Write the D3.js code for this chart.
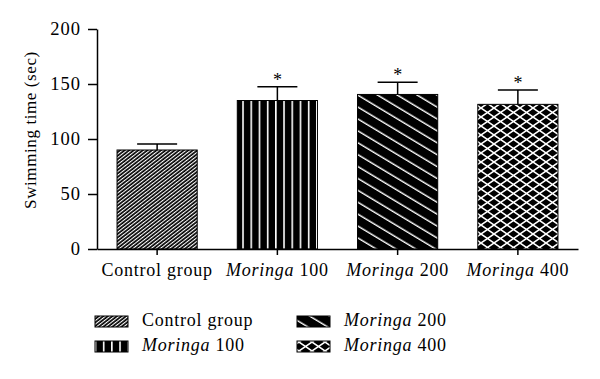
<!DOCTYPE html>
<html><head><meta charset="utf-8">
<script src="https://cdn.jsdelivr.net/npm/d3@7"></script>
<style>body{margin:0;background:#fff}svg{display:block}text{font-family:"Liberation Serif","Times New Roman",serif;fill:#000}</style>
</head><body><svg id="c" width="600" height="379"></svg>
<script>
const categories = ["Control group", "Moringa 100", "Moringa 200", "Moringa 400"];
const means = [90, 135, 140.5, 131.5];
const errors = [5.5, 12.5, 11, 13];
const significant = [false, true, true, true];
const yTicks = [0, 50, 100, 150, 200];
const patterns = ["pCtrl", "p100", "p200", "p400"];

const svg = d3.select("#c");
const defs = svg.append("defs");
// control: dense rising diagonal stripes
let p = defs.append("pattern").attr("id","pCtrl").attr("patternUnits","userSpaceOnUse")
  .attr("width",2.8).attr("height",10).attr("patternTransform","rotate(52)");
p.append("rect").attr("width",2.8).attr("height",10).attr("fill","#000");
p.append("rect").attr("width",1.1).attr("height",10).attr("fill","#fff");
// 100: vertical white lines on black
p = defs.append("pattern").attr("id","p100").attr("patternUnits","userSpaceOnUse")
  .attr("width",8.2).attr("height",10).attr("x",117+120.25+5);
p.append("rect").attr("width",8.2).attr("height",10).attr("fill","#000");
p.append("rect").attr("x",0).attr("width",1.6).attr("height",10).attr("fill","#fff");
// 200: falling diagonal white lines
p = defs.append("pattern").attr("id","p200").attr("patternUnits","userSpaceOnUse")
  .attr("width",10.2).attr("height",10).attr("patternTransform","rotate(-59)");
p.append("rect").attr("width",10.2).attr("height",10).attr("fill","#000");
p.append("rect").attr("width",1.4).attr("height",10).attr("fill","#fff");
// 400: crosshatch
p = defs.append("pattern").attr("id","p400").attr("patternUnits","userSpaceOnUse")
  .attr("width",13).attr("height",9);
p.append("rect").attr("width",13).attr("height",9).attr("fill","#000");
p.append("path").attr("d","M-1,-0.7L14,9.7M-1,9.7L14,-0.7").attr("stroke","#fff").attr("stroke-width",1.5);

const x = d3.scaleBand().domain(categories).range([97,578]).paddingInner(1/3).paddingOuter(1/6);
const y = d3.scaleLinear().domain([0,200]).range([249,29]);

// bars
svg.selectAll("rect.bar").data(categories).join("rect").attr("class","bar")
  .attr("x",d=>x(d)).attr("width",x.bandwidth())
  .attr("y",(d,i)=>y(means[i])).attr("height",(d,i)=>y(0)-y(means[i]))
  .attr("fill",(d,i)=>`url(#${patterns[i]})`).attr("stroke","#000").attr("stroke-width",1);

// error bars
const cx = d=>x(d)+x.bandwidth()/2;
svg.selectAll("path.err").data(categories).join("path").attr("class","err")
  .attr("d",(d,i)=>{const t=y(means[i]+errors[i]);return `M${cx(d)},${y(means[i])}V${t}M${cx(d)-20},${t}H${cx(d)+20}`;})
  .attr("stroke","#000").attr("stroke-width",1.5).attr("fill","none");

svg.selectAll("text.star").data(categories.filter((d,i)=>significant[i])).join("text").attr("class","star")
  .attr("x",cx).attr("y",d=>{const i=categories.indexOf(d);return y(means[i]+errors[i])-1;})
  .attr("text-anchor","middle").attr("font-size",18).attr("fill","#222").text("*");

// axes
const gy = svg.append("g").attr("transform","translate(97,0)")
  .call(d3.axisLeft(y).tickValues(yTicks).tickSize(9).tickSizeOuter(0).tickPadding(7));
const gx = svg.append("g").attr("transform","translate(0,249)")
  .call(d3.axisBottom(x).tickSize(6).tickSizeOuter(0).tickPadding(4).tickFormat(()=>""));
[gy,gx].forEach(g=>{g.selectAll("path,line").attr("stroke","#000").attr("stroke-width",1.5);});
gy.selectAll("text").attr("font-size",18.5).attr("letter-spacing","1px").attr("font-family","Liberation Serif").attr("fill","#000");

function label(sel, name){
  if(name.startsWith("Moringa")){
    sel.append("tspan").attr("font-style","italic").text("Moringa");
    sel.append("tspan").text(name.slice(7));
  } else sel.text(name);
}
categories.forEach(c=>{
  const t = svg.append("text").attr("x",cx(c)).attr("y",276).attr("text-anchor","middle")
    .attr("font-size",18).attr("letter-spacing","0.75px");
  label(t,c);
});

// y label
svg.append("text").attr("transform","translate(36,130) rotate(-90)").attr("text-anchor","middle")
  .attr("font-size",17).attr("letter-spacing","0.6px").text("Swimming time (sec)");

// legend
const legX = [95, 297], legY = [316, 341];
categories.forEach((c,i)=>{
  const col = i===0||i===1 ? 0 : 1;
  const row = i===0||i===2 ? 0 : 1;
  svg.append("rect").attr("x",legX[col]).attr("y",legY[row]).attr("width",33).attr("height",11)
    .attr("fill",`url(#${patterns[i]})`).attr("stroke","#000").attr("stroke-width",1);
  const t = svg.append("text").attr("x",legX[col]+47).attr("y",legY[row]+10)
    .attr("font-size",18).attr("letter-spacing","0.75px");
  label(t,c);
});
</script></body></html>
